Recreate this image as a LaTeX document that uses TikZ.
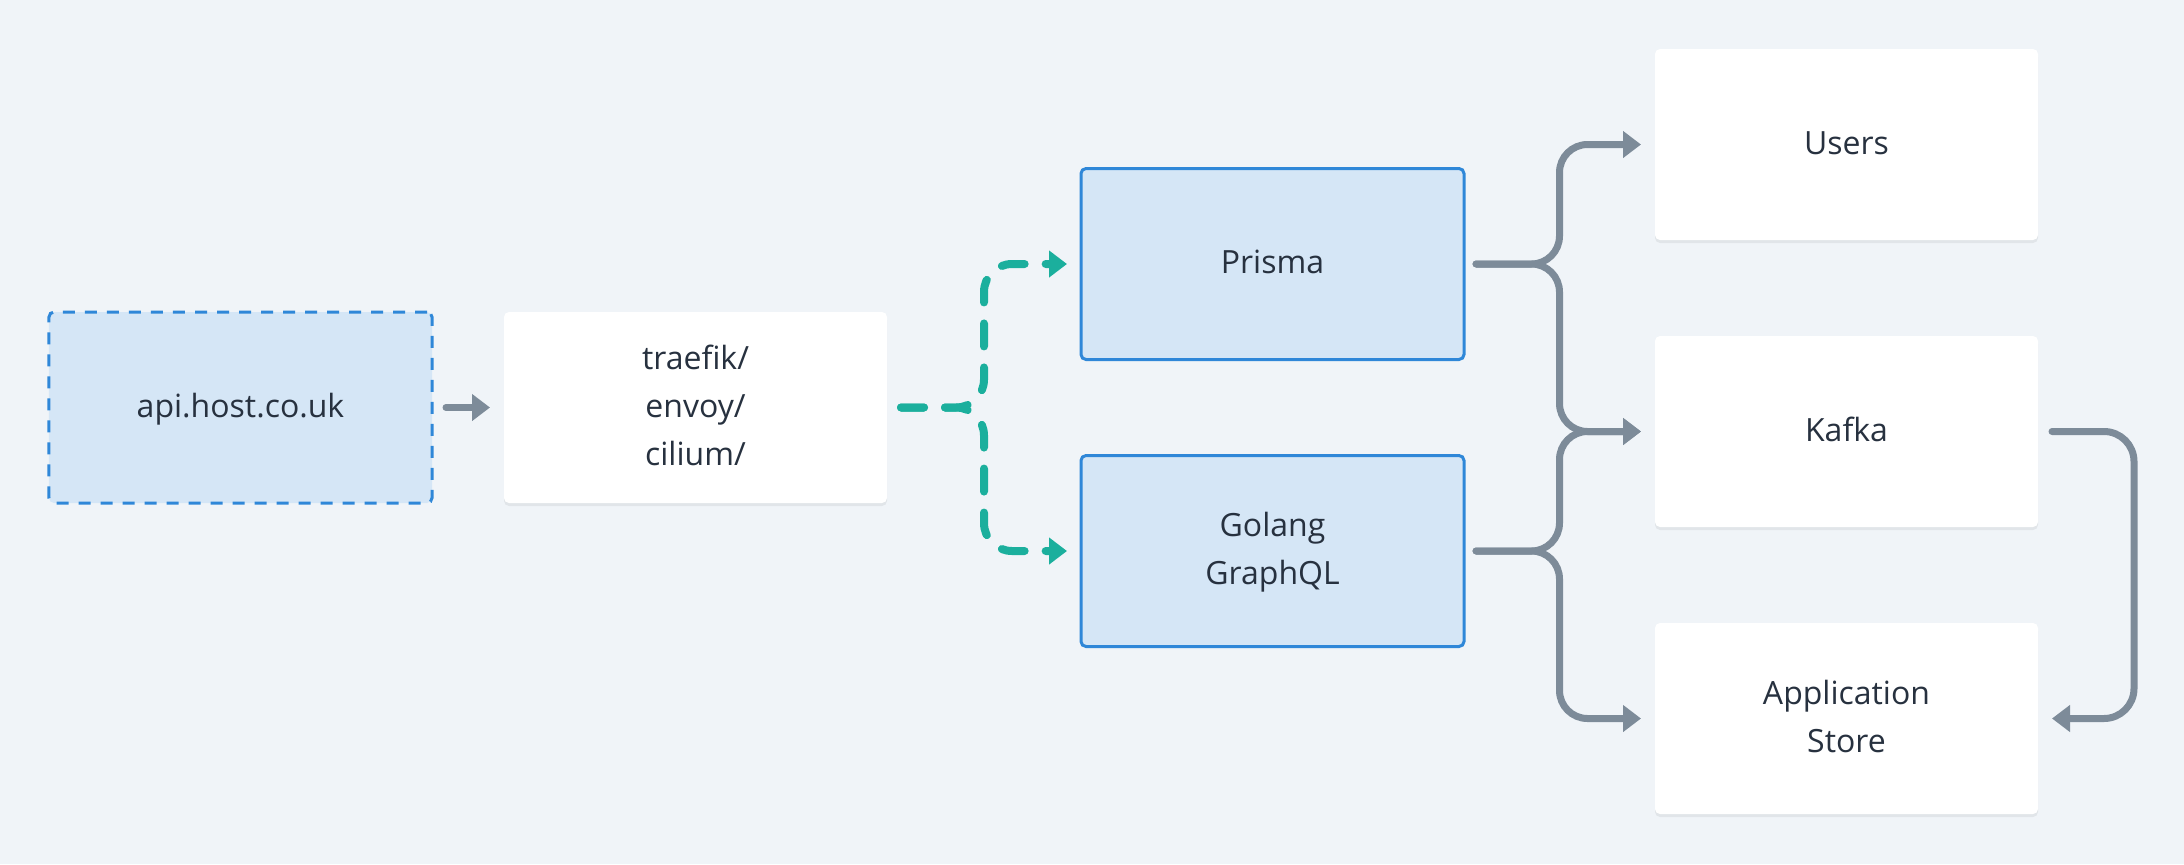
\documentclass[tikz,border=0pt]{standalone}
\usepackage{fontspec}
\setmainfont{Open Sans}
\usetikzlibrary{positioning,arrows.meta,shadows}

\begin{document}
\begin{tikzpicture}
  \definecolor{background}{HTML}{F0F4F8}
  \definecolor{lightblue}{HTML}{D5E6F6}
  \definecolor{darkblue}{HTML}{2F87D8}
  \definecolor{slate}{HTML}{7D8B99}
  \definecolor{teal}{HTML}{1BAF9D}
  \definecolor{ink}{HTML}{27313F}
  \newcommand{\nearsep}[0]{36pt}
  \newcommand{\farsep}[0]{97pt}
  \newcommand{\rowsep}[0]{48pt}
  \newcommand{\tipgap}[0]{7pt}
  \newcommand{\nodename}[1]{\begin{tabular}{c}#1\end{tabular}}
  \tikzstyle{block}     = [rectangle, rounded corners=2.5pt, minimum width=191.5pt, minimum height=95.5pt, inner sep=0pt, outer sep=0pt, text=ink, font=\fontsize{16}{24}\selectfont]
  \tikzstyle{service}   = [block, draw=darkblue, line width=1.5pt, fill=lightblue]
  \tikzstyle{store}     = [block, fill=white, drop shadow={shadow xshift=0pt, shadow yshift=-1.5pt, fill=black, opacity=0.06}]
  \tikzstyle{connector} = [line width=3.5pt, draw=slate, line cap=round, rounded corners=14pt, -{Triangle[length=9pt,width=13pt]}]
  \tikzstyle{dataflow}  = [line width=4pt, draw=teal, line cap=round, dash pattern=on 11.5pt off 10.5pt, rounded corners=14pt, -{Triangle[length=9pt,width=13pt]}]

  \path [use as bounding box, fill=background] (-120.25pt,-228.25pt) rectangle (971.75pt,203.75pt);

  \node [service, dash pattern=on 6pt off 5pt]                   (api)     {\nodename{api.host.co.uk}};
  \node [store, right = \nearsep of api]                         (traefik) {\nodename{traefik/\\envoy/\\cilium/}};
  \node [service, right = \farsep of traefik, yshift=71.75pt]    (prisma)  {\nodename{Prisma}};
  \node [service, below = \rowsep of prisma]                     (golang)  {\nodename{Golang\\GraphQL}};
  \node [store, right = 95.5pt of prisma, yshift=59.75pt]        (users)   {\nodename{Users}};
  \node [store, below = \rowsep of users]                        (kafka)   {\nodename{Kafka}};
  \node [store, below = \rowsep of kafka]                        (appstore) {\nodename{Application\\Store}};

  \draw [connector] ([xshift=\tipgap]api.east) -- ([xshift=-\tipgap]traefik.west);

  \draw [dataflow] ([xshift=\tipgap]traefik.east) -- ([xshift=48.5pt]traefik.east) |- ([xshift=-\tipgap]prisma.west);
  \draw [dataflow] ([xshift=\tipgap]traefik.east) -- ([xshift=48.5pt]traefik.east) |- ([xshift=-\tipgap]golang.west);

  \draw [connector] ([xshift=6pt]prisma.east) -- ([xshift=47.75pt]prisma.east) |- ([xshift=-\tipgap]users.west);
  \draw [connector] ([xshift=6pt]prisma.east) -- ([xshift=47.75pt]prisma.east) |- ([xshift=-\tipgap]kafka.west);
  \draw [connector] ([xshift=6pt]golang.east) -- ([xshift=47.75pt]golang.east) |- ([xshift=-\tipgap]kafka.west);
  \draw [connector] ([xshift=6pt]golang.east) -- ([xshift=47.75pt]golang.east) |- ([xshift=-\tipgap]appstore.west);

  \draw [connector, rounded corners=15pt] ([xshift=\tipgap]kafka.east) -- ([xshift=48pt]kafka.east) |- ([xshift=\tipgap]appstore.east);
\end{tikzpicture}
\end{document}
